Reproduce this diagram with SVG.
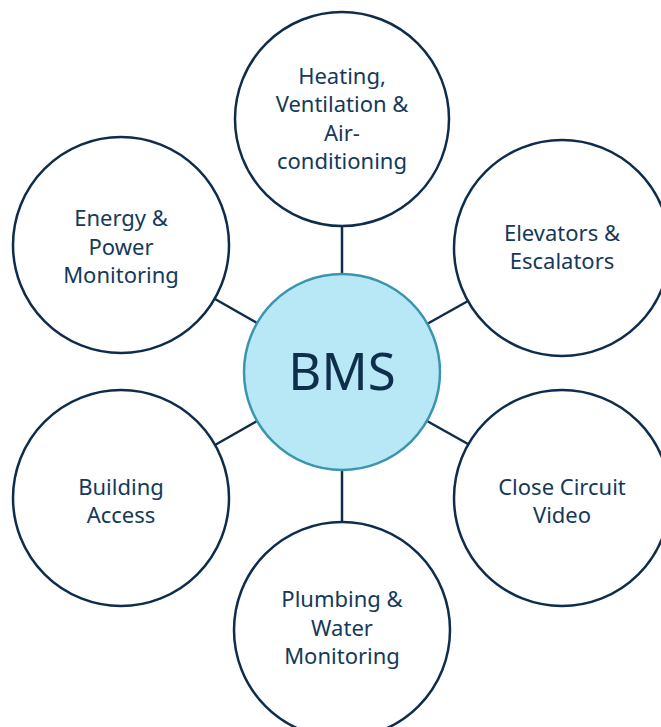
<svg xmlns="http://www.w3.org/2000/svg" width="661" height="727" viewBox="0 0 661 727">
  <style>
    .conn { stroke: #0e2d4c; stroke-width: 2.5; fill: none; }
    .outer { fill: #ffffff; stroke: #0e2d4c; stroke-width: 2.5; }
    .hub { fill: #b8e8f6; stroke: #3a95ae; stroke-width: 2.5; }
    .lbl { font-family: "Noto Sans", "Open Sans", sans-serif; font-size: 22px; fill: #14395a; text-anchor: middle; }
    .hub-lbl { font-family: "Noto Sans", "Open Sans", sans-serif; font-size: 51px; fill: #0f2e4c; text-anchor: middle; }
  </style>
  <rect width="661" height="727" fill="#ffffff"/>

  <g id="connectors">
    <line class="conn" x1="342" y1="226" x2="342" y2="275"/>
    <line class="conn" x1="468" y1="301" x2="427" y2="324"/>
    <line class="conn" x1="468" y1="444" x2="427" y2="421"/>
    <line class="conn" x1="342" y1="470" x2="342" y2="522"/>
    <line class="conn" x1="215" y1="445" x2="257" y2="421"/>
    <line class="conn" x1="215" y1="299" x2="257" y2="323"/>
  </g>

  <g id="hvac">
    <circle class="outer" cx="342" cy="119" r="107"/>
    <text class="lbl" x="342" y="83.5">Heating,</text>
    <text class="lbl" x="342" y="112">Ventilation &amp;</text>
    <text class="lbl" x="342" y="140.5">Air-</text>
    <text class="lbl" x="342" y="169">conditioning</text>
  </g>

  <g id="elevators">
    <circle class="outer" cx="562" cy="248" r="108"/>
    <text class="lbl" x="562" y="240.5">Elevators &amp;</text>
    <text class="lbl" x="562" y="269">Escalators</text>
  </g>

  <g id="cctv">
    <circle class="outer" cx="562" cy="498" r="108"/>
    <text class="lbl" x="562" y="494.5">Close Circuit</text>
    <text class="lbl" x="562" y="523">Video</text>
  </g>

  <g id="plumbing">
    <circle class="outer" cx="342" cy="630" r="108"/>
    <text class="lbl" x="342" y="607">Plumbing &amp;</text>
    <text class="lbl" x="342" y="635.5">Water</text>
    <text class="lbl" x="342" y="664">Monitoring</text>
  </g>

  <g id="access">
    <circle class="outer" cx="121" cy="498" r="108"/>
    <text class="lbl" x="121" y="494.5">Building</text>
    <text class="lbl" x="121" y="523">Access</text>
  </g>

  <g id="energy">
    <circle class="outer" cx="121" cy="245" r="108"/>
    <text class="lbl" x="121" y="226">Energy &amp;</text>
    <text class="lbl" x="121" y="254.5">Power</text>
    <text class="lbl" x="121" y="283">Monitoring</text>
  </g>

  <g id="bms">
    <circle class="hub" cx="342" cy="372" r="98"/>
    <text class="hub-lbl" x="342" y="390">BMS</text>
  </g>
</svg>
